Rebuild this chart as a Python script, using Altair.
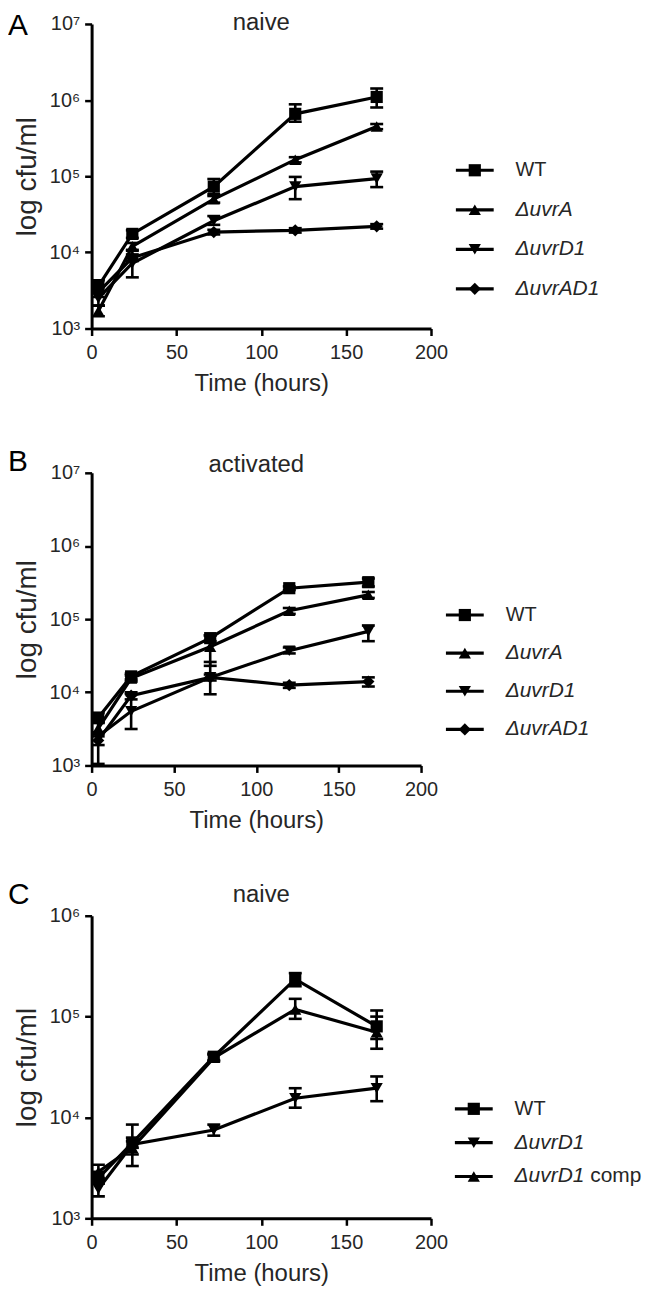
import altair as alt
import pandas as pd

FONT = "Liberation Sans"
TXT = "#262626"

# ---------------- data ----------------
TIMES = [4, 24, 72, 120, 168]

ALL_SERIES = ["WT", "ΔuvrA", "ΔuvrD1", "ΔuvrAD1", "ΔuvrD1 comp"]
ALL_SHAPES = ["square", "triangle-up", "triangle-down", "diamond", "triangle-up"]

Y_TICKS = [1000, 10000, 100000, 1000000, 10000000]
Y_TICK_LABELS = ["10³", "10⁴", "10⁵", "10⁶", "10⁷"]
X_TICKS = [0, 50, 100, 150, 200]

PANEL_LETTERS = ["A", "B", "C"]
PANEL_TITLES = ["naive", "activated", "naive"]

# Panel A (naive)
A_SERIES = ["WT", "ΔuvrA", "ΔuvrD1", "ΔuvrAD1"]
A_WT = [3600, 17500, 73000, 660000, 1100000]
A_WT_LO = [2900, 15500, 58000, 520000, 800000]
A_WT_HI = [4300, 19500, 92000, 880000, 1420000]
A_UVRA = [1700, 12000, 50000, 165000, 450000]
A_UVRA_LO = [1450, 10800, 45000, 152000, 415000]
A_UVRA_HI = [2000, 13300, 55000, 178000, 485000]
A_UVRD1 = [2500, 7200, 26000, 73000, 93000]
A_UVRD1_LO = [2000, 4700, 23000, 50000, 72000]
A_UVRD1_HI = [3100, 10500, 30000, 98000, 115000]
A_UVRAD1 = [3000, 8500, 18500, 19500, 22000]
A_UVRAD1_LO = [2600, 7700, 17200, 18200, 20500]
A_UVRAD1_HI = [3500, 9400, 19800, 20800, 23500]

# Panel B (activated)
B_SERIES = ["WT", "ΔuvrA", "ΔuvrD1", "ΔuvrAD1"]
B_WT = [4500, 16500, 55000, 265000, 320000]
B_WT_LO = [3900, 15000, 50000, 250000, 280000]
B_WT_HI = [5200, 18000, 60000, 280000, 360000]
B_UVRA = [3200, 15500, 42000, 130000, 215000]
B_UVRA_LO = [2700, 14000, 23000, 118000, 195000]
B_UVRA_HI = [3800, 17000, 60000, 142000, 235000]
B_UVRD1 = [2500, 5500, 16000, 37000, 68000]
B_UVRD1_LO = [1050, 3150, 9400, 34000, 50000]
B_UVRD1_HI = [4000, 9500, 26000, 41000, 82000]
B_UVRAD1 = [2200, 9000, 16000, 12500, 14000]
B_UVRAD1_LO = [1900, 8000, 14500, 11500, 12000]
B_UVRAD1_HI = [2500, 10000, 17500, 13500, 16000]

# Panel C (naive)
C_SERIES = ["WT", "ΔuvrD1", "ΔuvrD1 comp"]
C_WT = [2500, 5600, 40000, 235000, 80000]
C_WT_LO = [2200, 5000, 37000, 200000, 60000]
C_WT_HI = [2900, 6300, 43000, 270000, 115000]
C_UVRD1 = [1950, 5400, 7500, 15500, 19500]
C_UVRD1_LO = [1650, 3300, 6600, 12500, 14500]
C_UVRD1_HI = [2300, 8500, 8500, 19500, 25500]
C_COMP = [2900, 5000, 39000, 118000, 70000]
C_COMP_LO = [2500, 4300, 36000, 95000, 48000]
C_COMP_HI = [3400, 5800, 42000, 150000, 100000]


def long_df(series, groups):
    rows = []
    for s, (v, lo, hi) in zip(series, groups):
        for t, a, b, c in zip(TIMES, v, lo, hi):
            rows.append({"series": s, "t": t, "v": a, "lo": b, "hi": c})
    return pd.DataFrame(rows)


def label_expr(ticks, labels):
    parts = [f"datum.value == {t} ? '{l}'" for t, l in zip(ticks, labels)]
    return " : ".join(parts) + " : ''"


SHAPE = alt.Shape("series:N", scale=alt.Scale(domain=ALL_SERIES, range=ALL_SHAPES), legend=None)


def make_panel(idx, series, groups, ymax, w, h, leg_x, leg_dom,
               title_y, letter_y):
    df = long_df(series, groups)
    ticks = [t for t in Y_TICKS if t <= ymax]
    labs = Y_TICK_LABELS[:len(ticks)]
    xenc = alt.X("t:Q", scale=alt.Scale(domain=[0, 200], nice=False),
                 axis=alt.Axis(values=X_TICKS, title="Time (hours)", labelFlush=False,
                               labelFontSize=20, titleFontSize=24, tickSize=7,
                               labelPadding=7, titlePadding=9))
    yaxis = alt.Axis(values=ticks, labelExpr=label_expr(ticks, labs), title="log cfu/ml",
                     labelFontSize=20, titleFontSize=28, tickSize=7, labelPadding=5,
                     titlePadding=8)
    yscale = alt.Scale(type="log", domain=[1000, ymax], nice=False)
    base = alt.Chart(df)
    lines = base.mark_line(color="black", strokeWidth=3.2).encode(
        x=xenc, y=alt.Y("v:Q", scale=yscale, axis=yaxis), detail="series:N")
    bars = base.mark_rule(color="black", strokeWidth=2.6).encode(
        x="t:Q", y=alt.Y("lo:Q", scale=yscale, axis=yaxis), y2="hi:Q")
    cap_lo = base.mark_tick(orient="horizontal", color="black", size=13, thickness=2.6, opacity=1).encode(
        x="t:Q", y=alt.Y("lo:Q", scale=yscale, axis=yaxis))
    cap_hi = base.mark_tick(orient="horizontal", color="black", size=13, thickness=2.6, opacity=1).encode(
        x="t:Q", y=alt.Y("hi:Q", scale=yscale, axis=yaxis))
    pts = base.mark_point(filled=True, color="black", opacity=1, size=150).encode(
        x="t:Q", y=alt.Y("v:Q", scale=yscale, axis=yaxis), shape=SHAPE)

    lab_df = pd.DataFrame({"letter": [PANEL_LETTERS[idx]], "title": [PANEL_TITLES[idx]]})
    letter = alt.Chart(lab_df).mark_text(align="left", baseline="alphabetic", fontSize=30,
                                         font=FONT, color="black").encode(
        x=alt.value(-84), y=alt.value(letter_y), text="letter:N")
    title = alt.Chart(lab_df).mark_text(align="center", baseline="alphabetic", fontSize=24,
                                        font=FONT, color=TXT).encode(
        x=alt.value(w / 2), y=alt.value(title_y), text="title:N")

    data_layer = alt.layer(lines, bars, cap_lo, cap_hi, pts, title, letter)

    leg_df = pd.DataFrame({
        "series": series,
        "row": list(range(len(series))),
        "norm": [s if not s.startswith("Δ") else "" for s in series],
        "ital": [s.split(" ")[0] if s.startswith("Δ") else "" for s in series],
        "suffix": [" ".join(s.split(" ")[1:]) if s.startswith("Δ") else "" for s in series],
    })
    ly = alt.Y("row:Q", axis=None,
               scale=alt.Scale(domain=leg_dom, reverse=True, nice=False, zero=False))
    lbase = alt.Chart(leg_df)
    l_line = lbase.mark_rule(color="black", strokeWidth=3.2).encode(
        x=alt.value(leg_x), x2=alt.value(leg_x + 38), y=ly)
    l_pt = lbase.mark_point(filled=True, color="black", opacity=1, size=150).encode(
        x=alt.value(leg_x + 19), y=ly, shape=SHAPE)
    l_norm = lbase.mark_text(align="left", baseline="middle", fontSize=20, font=FONT, color=TXT).encode(
        x=alt.value(leg_x + 60), y=ly, text="norm:N")
    l_ital = lbase.mark_text(align="left", baseline="middle", fontSize=21, font=FONT,
                             fontStyle="italic", color=TXT).encode(
        x=alt.value(leg_x + 60), y=ly, text="ital:N")
    l_suf = lbase.mark_text(align="left", baseline="middle", fontSize=21, font=FONT, color=TXT).encode(
        x=alt.value(leg_x + 60 + 76), y=ly, text="suffix:N")
    legend_layer = alt.layer(l_line, l_pt, l_norm, l_ital, l_suf)

    return alt.layer(data_layer, legend_layer).resolve_scale(y="independent").properties(
        width=w, height=h)


pA = make_panel(0, A_SERIES,
                [(A_WT, A_WT_LO, A_WT_HI), (A_UVRA, A_UVRA_LO, A_UVRA_HI),
                 (A_UVRD1, A_UVRD1_LO, A_UVRD1_HI), (A_UVRAD1, A_UVRAD1_LO, A_UVRAD1_HI)],
                10000000, 341, 306, 366, [-3.703, 4.005], 6, 11)
pB = make_panel(1, B_SERIES,
                [(B_WT, B_WT_LO, B_WT_HI), (B_UVRA, B_UVRA_LO, B_UVRA_HI),
                 (B_UVRD1, B_UVRD1_LO, B_UVRD1_HI), (B_UVRAD1, B_UVRAD1_LO, B_UVRAD1_HI)],
                10000000, 331, 294, 356, [-3.73, 3.946], -1, -2)
pC = make_panel(2, C_SERIES,
                [(C_WT, C_WT_LO, C_WT_HI), (C_UVRD1, C_UVRD1_LO, C_UVRD1_HI),
                 (C_COMP, C_COMP_LO, C_COMP_HI)],
                1000000, 341, 304, 365, [-5.706, 3.235], -14, -12)

lower = alt.vconcat(pB, pC, spacing=151, bounds="flush")
chart = alt.vconcat(pA, lower, spacing=145, bounds="flush").properties(
    padding={"left": 0, "top": 0, "right": 0, "bottom": 5}
).configure_view(stroke=None).configure_axis(
    grid=False, domainColor="black", tickColor="black", domainWidth=3, tickWidth=2.5,
    labelColor=TXT, titleColor=TXT, labelFont=FONT, titleFont=FONT,
    titleFontWeight="normal"
)

chart.save("out.html", embed_options={"renderer": "svg", "actions": False})
